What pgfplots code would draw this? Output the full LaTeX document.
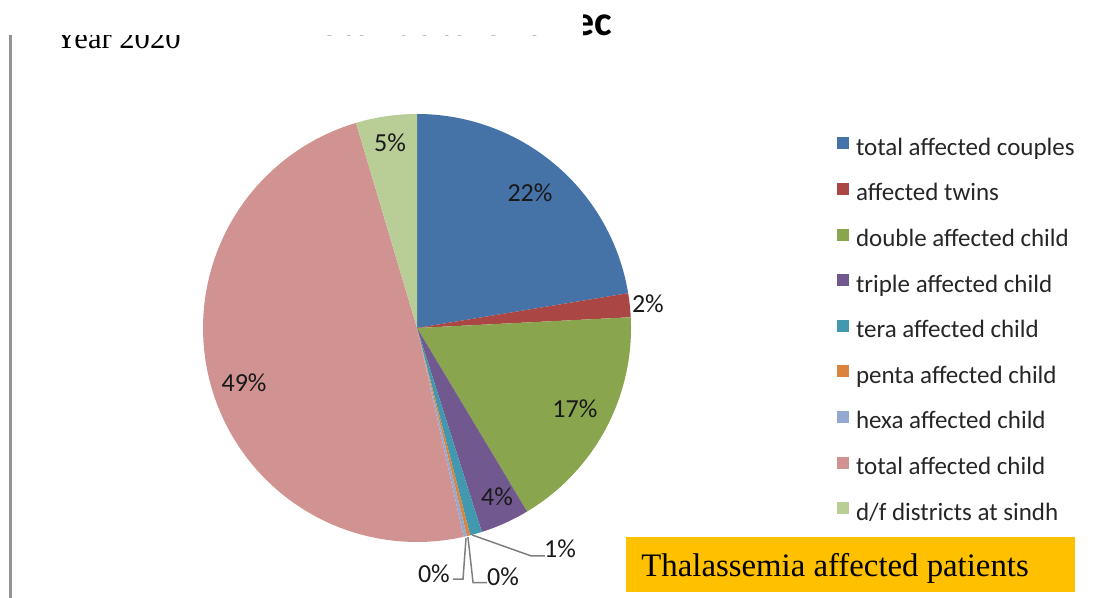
\documentclass[border=0pt]{standalone}
\usepackage{fontspec}
\setmainfont{Liberation Serif}
\newfontfamily\calibri{Carlito}
\usepackage{pgfplots}
\pgfplotsset{compat=1.18}

\definecolor{sBlue}{HTML}{4572A7}
\definecolor{sRed}{HTML}{AA4643}
\definecolor{sGreen}{HTML}{89A54E}
\definecolor{sPurple}{HTML}{71588F}
\definecolor{sTeal}{HTML}{4198AF}
\definecolor{sOrange}{HTML}{DB843D}
\definecolor{sLBlue}{HTML}{93A9CF}
\definecolor{sPink}{HTML}{D19392}
\definecolor{sLGreen}{HTML}{B9CD96}
\definecolor{leader}{HTML}{7F7F7F}
\definecolor{boxyellow}{HTML}{FFC000}

% running start angle of the next slice (clockwise from 12 o'clock)
\def\curang{90}

% #1 share in percent, #2 colour, #3 legend text, #4/#5 label position (axis cs)
\newcommand\pieslice[5]{%
  \pgfmathsetmacro\endang{\curang-3.6*#1}%
  \edef\doslice{\noexpand\addplot[fill=#2, draw=none, domain=\endang:\curang,
      samples=90, variable=\noexpand\t]
      ({cos(\noexpand\t)},{sin(\noexpand\t)}) -- (axis cs:0,0) -- cycle;}%
  \doslice
  \addlegendentry{#3}
  \node[font=\calibri\fontsize{13pt}{15pt}\selectfont, text=black!90, inner sep=0pt]
     at (axis cs:#4,#5)
     {\pgfmathprintnumber[fixed,precision=0,assume math mode=true]{#1}\%};
  \global\let\curang\endang
}

\pgfplotsset{
  square legend/.style={
    legend image code/.code={\path[##1] (0pt,-0.3pt) rectangle (6pt,5.7pt);}
  }
}

\begin{document}
\begin{tikzpicture}
\path[use as bounding box] (0,0) rectangle (547.5pt,299pt);

% frame line on the left
\draw[color=gray!85, line width=1.2pt] (5.25pt,281.5pt) -- (5.25pt,0pt);

% headings (top part hidden by the box drawn over them)
\node[anchor=base east, inner sep=0pt, font=\calibri\bfseries\fontsize{21pt}{24pt}\selectfont]
  at (306pt,281pt) {Total data of affec};
\node[anchor=base west, inner sep=0pt, font=\fontsize{15.3pt}{18pt}\selectfont]
  at (27.5pt,274.5pt) {Year 2020};
\fill[white] (0pt,281.5pt) rectangle (291.5pt,299pt);

\begin{axis}[
  at={(208.5pt,135pt)}, anchor=center,
  width=214pt, height=214pt, scale only axis,
  xmin=-1, xmax=1, ymin=-1, ymax=1,
  hide axis, clip=false,
  square legend,
  legend cell align=left,
  legend style={draw=none, fill=none, at={(1.4813,0.948)}, anchor=north west,
    inner sep=0pt, outer sep=0pt, row sep=10.3pt, column sep=3.5pt,
    font=\calibri\fontsize{12.5pt}{15pt}\selectfont, text=black!85,
    nodes={inner sep=0pt, text height=9.5pt, text depth=3pt}},
]
\pieslice{22.4}{sBlue}{total affected couples}{0.528}{0.631}
\pieslice{1.8}{sRed}{affected twins}{1.079}{0.112}
\pieslice{17.2}{sGreen}{double affected child}{0.738}{-0.379}
\pieslice{3.7}{sPurple}{triple affected child}{0.374}{-0.790}
\pieslice{0.9}{sTeal}{tera affected child}{0.668}{-1.033}
\pieslice{0.25}{sOrange}{penta affected child}{0.402}{-1.162}
\pieslice{0.25}{sLBlue}{hexa affected child}{0.079}{-1.150}
\pieslice{48.9}{sPink}{total affected child}{-0.808}{-0.257}
\pieslice{4.6}{sLGreen}{d/f districts at sindh}{-0.126}{0.864}

% leader lines of the small slices
\draw[leader, line width=0.75pt] (axis cs:0.257,-0.967) -- (axis cs:0.533,-1.065) -- (axis cs:0.598,-1.065);
\draw[leader, line width=0.75pt] (axis cs:0.229,-0.981) -- (axis cs:0.215,-1.173) -- (axis cs:0.168,-1.173);
\draw[leader, line width=0.75pt] (axis cs:0.238,-0.977) -- (axis cs:0.262,-1.190) -- (axis cs:0.327,-1.190);
\end{axis}

% caption box
\fill[boxyellow] (313pt,30.5pt) rectangle (537.5pt,3pt);
\node[anchor=base west, inner sep=0pt, font=\fontsize{16.4pt}{19pt}\selectfont]
  at (320.5pt,10.5pt) {Thalassemia affected patients};
\end{tikzpicture}
\end{document}
